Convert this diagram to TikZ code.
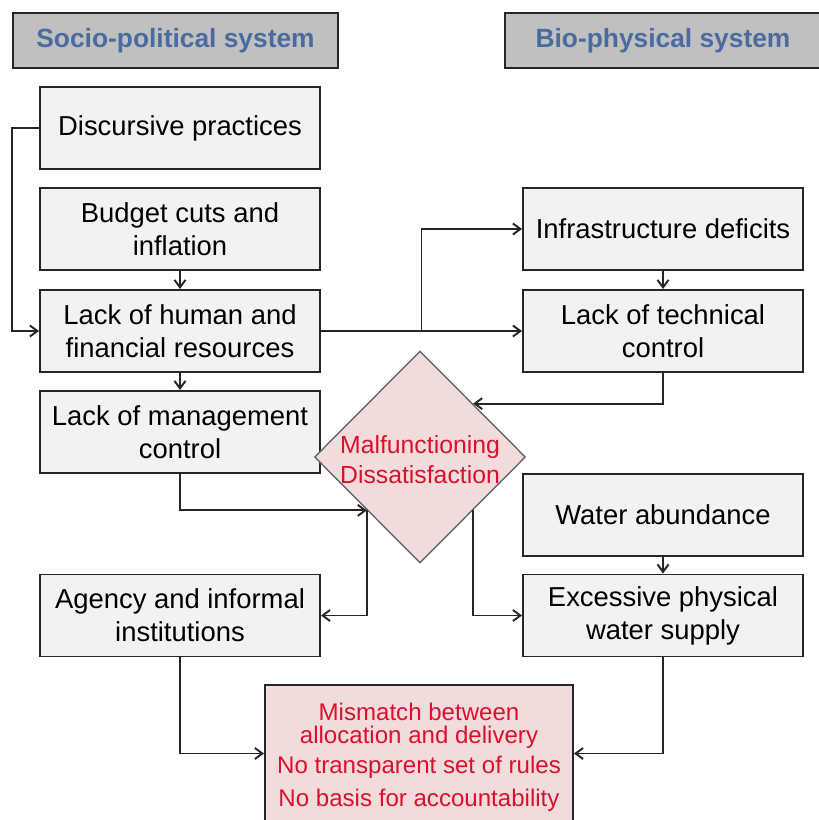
\documentclass[tikz,border=0pt]{standalone}
\usepackage{fontspec}
\setmainfont{Liberation Sans}
\usetikzlibrary{
  positioning,
  arrows.meta,
  calc,
  shapes.geometric
}
\definecolor{header}{HTML}{C0C0C0}
\definecolor{headtext}{HTML}{4A6B9F}
\definecolor{boxfill}{HTML}{F2F2F2}
\definecolor{alarm}{HTML}{F2DCDB}
\definecolor{alarmtext}{HTML}{D9102E}
\definecolor{edge}{HTML}{262626}

\begin{document}
\begin{tikzpicture}[
  header/.style={draw=edge, line width=1.1pt, fill=header, minimum height=1.1cm,
                 font=\fontsize{15}{18}\selectfont\bfseries, text=headtext},
  factor/.style={draw=edge, line width=1.1pt, fill=boxfill, minimum height=1.64cm,
                 minimum width=5.6cm, align=center, font=\fontsize{15.6}{18.8}\selectfont},
  crisis/.style={diamond, draw=black!60, line width=0.8pt, fill=alarm,
                 minimum width=4.22cm, minimum height=4.24cm, inner sep=0pt},
  arr/.style={-{Straight Barb[length=1.5mm,width=2.2mm]}, line width=1.1pt, edge}
]
  \useasboundingbox (0,0) rectangle (16.36,-16.4);

  % column headers
  \node[header, minimum width=6.5cm] (sp) at (3.51,-0.81) {Socio-political system};
  \node[header, minimum width=6.32cm] (bp) at (13.26,-0.81) {Bio-physical system};

  % socio-political side
  \node[factor] (disc)   at (3.6,-2.56)  {Discursive practices};
  \node[factor] (budget) at (3.6,-4.58)  {Budget cuts and\\inflation};
  \node[factor] (hr)     at (3.6,-6.62)  {Lack of human and\\financial resources};
  \node[factor] (mgmt)   at (3.6,-8.64)  {Lack of management\\control};
  \node[factor] (agency) at (3.6,-12.31) {Agency and informal\\institutions};

  % bio-physical side
  \node[factor] (infra)  at (13.26,-4.58)  {Infrastructure deficits};
  \node[factor] (tech)   at (13.26,-6.62)  {Lack of technical\\control};
  \node[factor] (water)  at (13.26,-10.3)  {Water abundance};
  \node[factor] (excess) at (13.26,-12.31) {Excessive physical\\water supply};

  % centre
  \node[crisis] (mf) at (8.4,-9.14) {};
  \node[align=center, text=alarmtext, font=\fontsize{14.1}{17.1}\selectfont] (mftext)
    at ($(mf)+(0,-0.06)$) {Malfunctioning\\Dissatisfaction};

  \node[draw=edge, line width=1.1pt, fill=alarm, minimum width=6.16cm, minimum height=2.9cm,
        align=center, text=alarmtext, font=\fontsize{13.7}{13.1}\selectfont] (mis) at (8.38,-15.15) {
    Mismatch between\\
    allocation and delivery\\[4pt]
    No transparent set of rules\\[5.5pt]
    No basis for accountability
  };

  \draw[arr] (disc.west) -- ++(-0.54,0) |- (hr.west);
  \draw[arr] (budget) -- (hr);
  \draw[arr] (hr) -- (mgmt);
  \draw[arr] (hr) -- (tech);
  \draw[arr] ($(hr.east)!0.5!(tech.west)$) |- (infra);
  \draw[arr] (infra) -- (tech);
  \draw[arr] (tech) |- (mf.north east);
  \draw[arr] (mgmt) |- (mf.south west);
  \draw[arr] (mf.south west) |- (agency);
  \draw[arr] (mf.south east) |- (excess);
  \draw[arr] (water) -- (excess);
  \draw[arr] (agency) |- ($(mis.west)+(0,0.08)$);
  \draw[arr] (excess) |- ($(mis.east)+(0,0.08)$);
\end{tikzpicture}
\end{document}
